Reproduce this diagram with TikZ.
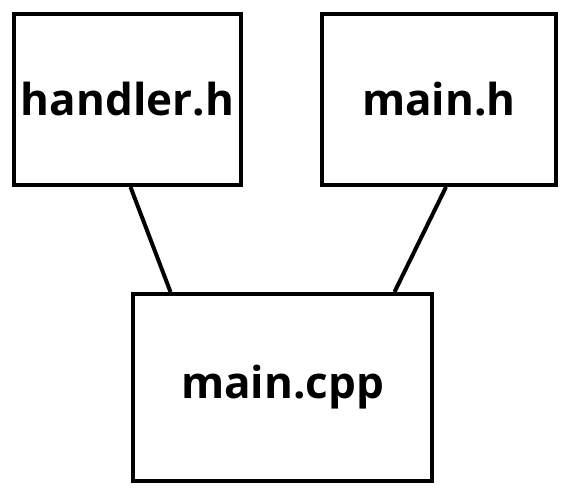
\documentclass[tikz,border=0pt]{standalone}
\usepackage{fontspec}
\setmainfont{Open Sans}
\begin{document}
\begin{tikzpicture}[x=1pt,y=-1pt,
  filebox/.style={draw=black,line width=4pt,inner sep=0pt,font=\bfseries\fontsize{44}{52}\selectfont},
  link/.style={draw=black,line width=4pt}]
\useasboundingbox (0,0) rectangle (574,502);
\node[filebox,minimum width=227pt,minimum height=171pt] (handler) at (127.5,99.5) {handler.h};
\node[filebox,minimum width=234pt,minimum height=171pt] (mainh) at (439,99.5) {main.h};
\node[filebox,minimum width=299pt,minimum height=187pt] (maincpp) at (282.5,387.5) {main.cpp};
\draw[link] ([xshift=3pt]handler.south) -- ([xshift=-112pt]maincpp.north);
\draw[link] ([xshift=7pt]mainh.south) -- ([xshift=112pt]maincpp.north);
\end{tikzpicture}
\end{document}
